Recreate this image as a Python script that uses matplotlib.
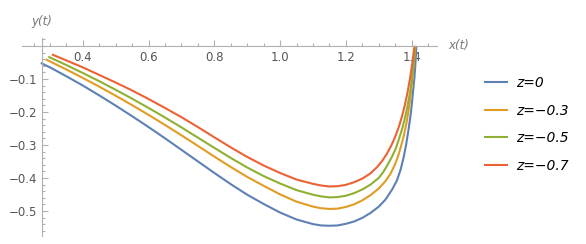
import matplotlib.pyplot as plt
from matplotlib.ticker import MultipleLocator
from matplotlib.lines import Line2D

# curves (x(t), y(t))
x_z0 = [0.275, 0.30, 0.35, 0.40, 0.45, 0.50, 0.55, 0.60, 0.65, 0.70, 0.75, 0.80, 0.85, 0.90,
        0.95, 1.00, 1.05, 1.10, 1.125, 1.15, 1.175, 1.20, 1.225, 1.25, 1.275, 1.30, 1.32, 1.34,
        1.355, 1.366, 1.375, 1.383, 1.391, 1.398, 1.403, 1.408, 1.411, 1.414]
y_z0 = [-0.053, -0.065, -0.092, -0.120, -0.150, -0.181, -0.213, -0.246, -0.280, -0.315, -0.350,
        -0.385, -0.419, -0.451, -0.479, -0.505, -0.526, -0.540, -0.544, -0.545, -0.544, -0.539,
        -0.532, -0.521, -0.506, -0.487, -0.466, -0.436, -0.408, -0.376, -0.340, -0.300, -0.250,
        -0.200, -0.150, -0.100, -0.060, -0.003]

x_z03 = [0.29, 0.30, 0.35, 0.40, 0.45, 0.50, 0.55, 0.60, 0.65, 0.70, 0.75, 0.80, 0.85, 0.90,
         0.95, 1.00, 1.05, 1.10, 1.125, 1.15, 1.175, 1.20, 1.225, 1.25, 1.275, 1.30, 1.32, 1.335,
         1.348, 1.358, 1.367, 1.375, 1.383, 1.390, 1.396, 1.401, 1.406, 1.411]
y_z03 = [-0.042, -0.047, -0.0715, -0.097, -0.1235, -0.151, -0.1795, -0.209, -0.2395, -0.271,
         -0.303, -0.3355, -0.367, -0.397, -0.424, -0.450, -0.472, -0.487, -0.492, -0.494, -0.493,
         -0.488, -0.480, -0.468, -0.452, -0.432, -0.410, -0.388, -0.362, -0.336, -0.306, -0.276,
         -0.240, -0.200, -0.155, -0.110, -0.060, -0.003]

x_z05 = [0.298, 0.35, 0.40, 0.45, 0.50, 0.55, 0.60, 0.65, 0.70, 0.75, 0.80, 0.85, 0.90, 0.95,
         1.00, 1.05, 1.10, 1.125, 1.15, 1.175, 1.20, 1.225, 1.25, 1.275, 1.30, 1.315, 1.328,
         1.340, 1.352, 1.362, 1.372, 1.381, 1.389, 1.396, 1.401, 1.406, 1.410]
y_z05 = [-0.034, -0.058, -0.082, -0.107, -0.133, -0.160, -0.188, -0.217, -0.247, -0.278, -0.309,
         -0.3395, -0.3685, -0.3945, -0.417, -0.437, -0.451, -0.456, -0.459, -0.458, -0.454,
         -0.446, -0.435, -0.420, -0.400, -0.380, -0.358, -0.336, -0.310, -0.280, -0.248, -0.212,
         -0.174, -0.135, -0.095, -0.050, -0.003]

x_z07 = [0.309, 0.35, 0.40, 0.45, 0.50, 0.55, 0.60, 0.65, 0.70, 0.75, 0.80, 0.85, 0.90, 0.95,
         1.00, 1.05, 1.10, 1.125, 1.15, 1.175, 1.20, 1.225, 1.25, 1.275, 1.295, 1.31, 1.325,
         1.338, 1.350, 1.361, 1.371, 1.380, 1.388, 1.395, 1.402, 1.408]
y_z07 = [-0.027, -0.044, -0.065, -0.088, -0.111, -0.135, -0.161, -0.188, -0.216, -0.246, -0.277,
         -0.3075, -0.3365, -0.3625, -0.385, -0.405, -0.418, -0.423, -0.426, -0.425, -0.421,
         -0.413, -0.402, -0.386, -0.367, -0.349, -0.326, -0.302, -0.275, -0.245, -0.212, -0.176,
         -0.138, -0.098, -0.052, -0.003]

labels = ['z=0', 'z=\u22120.3', 'z=\u22120.5', 'z=\u22120.7']
colors = ['#5E81B5', '#E19C24', '#8FB032', '#EB6235']

fig = plt.figure(figsize=(5.86, 2.44), dpi=100)
ax = fig.add_axes([22/586, 8/244, 415/586, 198/244])

series = [(x_z0, y_z0), (x_z03, y_z03), (x_z05, y_z05), (x_z07, y_z07)]
for (xs, ys), c in zip(series, colors):
    ax.plot(xs, ys, color=c, lw=1.5, solid_joinstyle='round')

ax.set_xlim(0.215, 1.477)
ax.set_ylim(-0.576, 0.024)

ax.spines['top'].set_visible(False)
ax.spines['right'].set_visible(False)
ax.spines['left'].set_position(('data', 0.275))
ax.spines['bottom'].set_position(('data', 0))
for s in ('left', 'bottom'):
    ax.spines[s].set_color('#b0b0b0')
    ax.spines[s].set_linewidth(0.8)

ax.xaxis.set_minor_locator(MultipleLocator(0.05))
ax.yaxis.set_minor_locator(MultipleLocator(0.02))
ax.set_xticks([0.4, 0.6, 0.8, 1.0, 1.2, 1.4])
ax.set_xticklabels(['0.4', '0.6', '0.8', '1.0', '1.2', '1.4'])
ax.set_yticks([-0.5, -0.4, -0.3, -0.2, -0.1])
ax.set_yticklabels(['\u22120.5', '\u22120.4', '\u22120.3', '\u22120.2', '\u22120.1'])
ax.tick_params(which='both', direction='in', color='#b0b0b0', width=0.8,
               labelcolor='#555555', labelsize=8.5)
ax.tick_params(which='major', length=4)
ax.tick_params(which='minor', length=2)
ax.tick_params(axis='x', pad=4)
ax.tick_params(axis='y', pad=3)

fig.text(42/586, 1 - 22/244, 'y(t)', style='italic', color='#777777',
         fontsize=8.5, ha='center', va='center')
fig.text(448/586, 1 - 46/244, 'x(t)', style='italic', color='#777777',
         fontsize=8.5, ha='left', va='center')

handles = [Line2D([], [], color=c, lw=1.5) for c in colors]
fig.legend(handles, labels, loc='upper left', bbox_to_anchor=(485/586, 1 - 76/244),
           frameon=False, borderaxespad=0, borderpad=0, handlelength=1.55,
           handletextpad=0.72, labelspacing=0.98,
           prop={'style': 'italic', 'size': 10})

fig.savefig('out.png', dpi=100)
